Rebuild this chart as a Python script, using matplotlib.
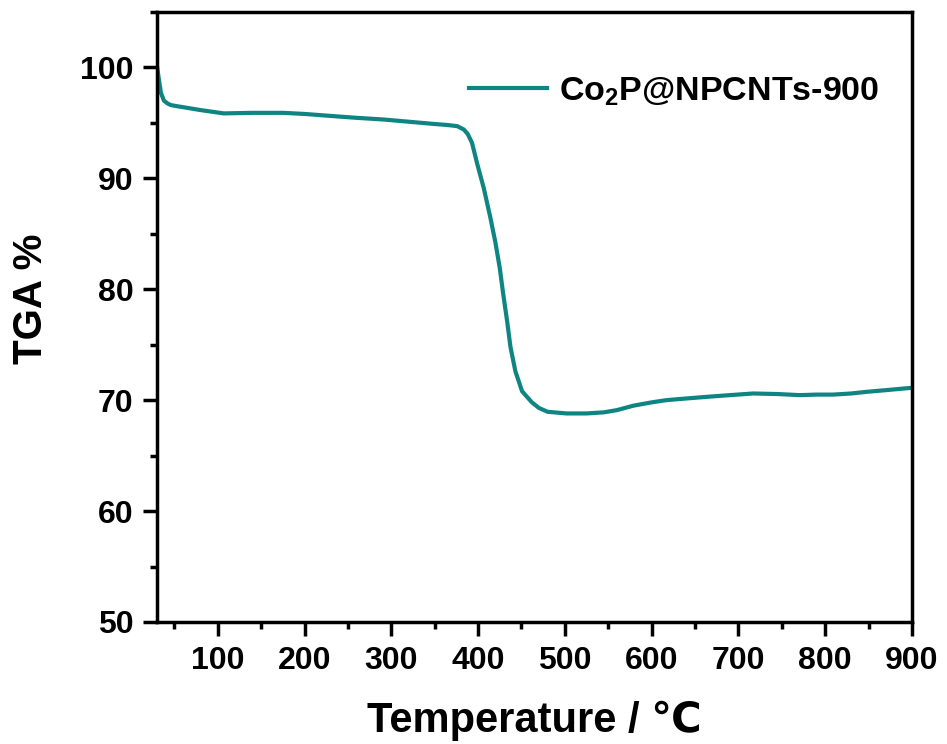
import matplotlib.pyplot as plt
from matplotlib.ticker import MultipleLocator

plt.rcParams['font.family'] = ['Liberation Sans', 'DejaVu Sans']
plt.rcParams['font.weight'] = 'bold'
plt.rcParams['mathtext.fontset'] = 'custom'
plt.rcParams['mathtext.rm'] = 'Liberation Sans:bold'
plt.rcParams['mathtext.bf'] = 'Liberation Sans:bold'

# TGA curve, temperature in degC and remaining mass in %
temp = [30, 32, 34.5, 38, 42, 46, 53, 61, 80, 107, 140, 176, 200, 234, 260,
        291, 320, 349, 365, 376, 383.5, 388, 393, 399, 406.6, 414.3, 420,
        425, 428.9, 433.5, 437.3, 443, 450.7, 462, 470, 480, 502,
        525, 545, 560, 579, 600, 617, 640, 664, 690, 717, 745, 771, 790, 809,
        830, 848, 870, 898, 900]
mass = [100.1, 99.0, 97.7, 97.0, 96.75, 96.6, 96.5, 96.4, 96.15, 95.85, 95.9,
        95.9, 95.8, 95.6, 95.45, 95.3, 95.1, 94.9, 94.8, 94.7, 94.4, 94.0, 93.2,
        91.3, 89.1, 86.4, 84.2, 81.9, 79.6, 77.1, 74.8, 72.6, 70.8, 69.8, 69.3,
        68.95, 68.8, 68.8, 68.9, 69.1, 69.5, 69.8, 70.0, 70.15, 70.3, 70.45,
        70.6, 70.55, 70.45, 70.5, 70.5, 70.6, 70.75, 70.9, 71.1, 71.1]

fig = plt.figure(figsize=(9.47, 7.44), dpi=100)
ax = fig.add_axes([0.1658, 0.164, 0.963 - 0.1658, 0.984 - 0.164])

ax.plot(temp, mass, color='#0f8583', lw=3, label=r'Co$_{\mathbf{2}}$P@NPCNTs-900')

ax.set_xlim(30, 900)
ax.set_ylim(50, 105)
ax.xaxis.set_major_locator(MultipleLocator(100))
ax.xaxis.set_minor_locator(MultipleLocator(50))
ax.yaxis.set_major_locator(MultipleLocator(10))
ax.yaxis.set_minor_locator(MultipleLocator(5))
ax.tick_params(which='major', direction='out', length=10, width=2.5, labelsize=23, pad=7)
ax.tick_params(which='minor', direction='out', length=5, width=2.5)
for s in ax.spines.values():
    s.set_linewidth(2.5)

ax.set_xlabel('Temperature / ℃', fontsize=30, fontweight='bold', labelpad=18)
ax.set_ylabel('TGA %', fontsize=29, fontweight='bold')
ax.yaxis.set_label_coords(-0.142, 0.53)

ax.legend(loc='upper left', bbox_to_anchor=(0.373, 0.947), frameon=False,
          fontsize=24.5, handlelength=2.3, handletextpad=0.35)

fig.savefig('out.png', dpi=100)
